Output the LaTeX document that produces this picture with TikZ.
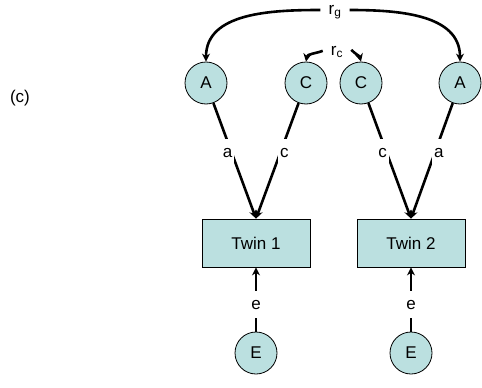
\documentclass[tikz,border=0pt]{standalone}
\usepackage{fontspec}
\setmainfont{Liberation Sans}
\usetikzlibrary{arrows.meta}
\definecolor{tealfill}{HTML}{BBE0E0}
\begin{document}
\begin{tikzpicture}[x=1pt,y=-1pt,
  lat/.style={circle,draw,line width=0.8pt,fill=tealfill,minimum size=42pt,inner sep=0pt,font=\fontsize{17}{17}\selectfont},
  obs/.style={rectangle,draw,line width=0.8pt,fill=tealfill,minimum width=108pt,minimum height=48pt,font=\fontsize{17}{17}\selectfont},
  path/.style={line width=2.6pt,-{Stealth[length=8pt,width=8pt]}},
  lab/.style={fill=white,inner xsep=2pt,inner ysep=9pt,font=\fontsize{17}{17}\selectfont}]
\useasboundingbox (0,0) rectangle (482,388);
\node[font=\fontsize{17}{17}\selectfont] (tag) at (20,98) {(c)};
\node[lat] (A1) at (206,83) {A};
\node[lat] (C1) at (306,83) {C};
\node[lat] (C2) at (361,83) {C};
\node[lat] (A2) at (460,83) {A};
\node[obs] (T1) at (256,243) {Twin 1};
\node[obs] (T2) at (411,243) {Twin 2};
\node[lat] (E1) at (256,353) {E};
\node[lat] (E2) at (411,353) {E};
\draw[path] (A1) -- node[lab,pos=0.43,xshift=-4pt] {a} (T1.north);
\draw[path] (C1) -- node[lab,pos=0.43,xshift=4pt] {c} (T1.north);
\draw[path] (C2) -- node[lab,pos=0.43,xshift=-4pt] {c} (T2.north);
\draw[path] (A2) -- node[lab,pos=0.43,xshift=4pt] {a} (T2.north);
\draw[path] (E1) -- node[lab,pos=0.42] {e} (T1.south);
\draw[path] (E2) -- node[lab,pos=0.42] {e} (T2.south);
\node[font=\fontsize{17}{17}\selectfont,inner xsep=8pt,inner ysep=1pt] (rg) at (335,12) {r\textsubscript{g}};
\node[font=\fontsize{17}{17}\selectfont,inner xsep=8pt,inner ysep=1pt] (rc) at (337,52) {r\textsubscript{c}};
\draw[path] ([yshift=2pt]rg.west) to[out=180,in=90] (A1.north);
\draw[path] ([yshift=2pt]rg.east) to[out=0,in=90] (A2.north);
\draw[path] ([yshift=-6pt]rc.north west) to[out=200,in=80] (C1.north);
\draw[path] ([yshift=-5pt]rc.north east) to[out=-45,in=105] (C2.north);
\end{tikzpicture}
\end{document}
